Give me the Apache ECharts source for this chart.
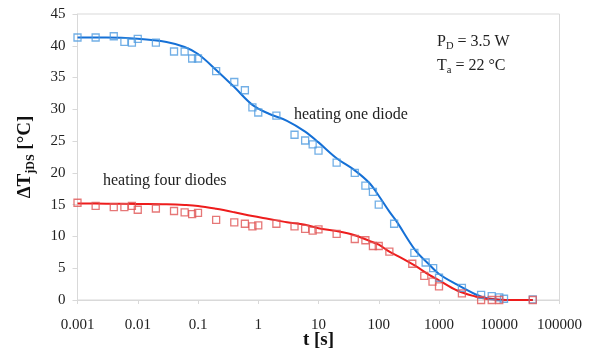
<!DOCTYPE html>
<html><head><meta charset="utf-8">
<script src="https://cdn.jsdelivr.net/npm/echarts@6/dist/echarts.min.js"></script>
<style>html,body{margin:0;padding:0;background:#fff}#c{width:590px;height:351px}</style>
</head><body><div id="c"></div>
<script>
// ---- data ----
const xTickLabels = ['0.001','0.01','0.1','1','10','100','1000','10000','100000'];
const yTicks = [0,5,10,15,20,25,30,35,40,45];

// measured points: heating one diode
const oneT = [0.001,0.002,0.004,0.006,0.008,0.01,0.02,0.04,0.06,0.08,0.1,0.2,0.4,0.6,0.8,1,2,4,6,8,10,20,40,60,80,100,180,390,600,800,1000,2400,5000,7500,10000,12000,36000];
const oneV = [41.3,41.3,41.5,40.6,40.5,41.1,40.5,39.1,39.1,38.0,38.0,36.0,34.3,33.0,30.3,29.5,29.0,26.0,25.1,24.5,23.5,21.6,20.0,18.0,17.0,15.0,12.0,7.4,5.9,5.0,3.5,1.9,0.8,0.6,0.4,0.2,0.1];

// measured points: heating four diodes
const fourT = [0.001,0.002,0.004,0.006,0.008,0.01,0.02,0.04,0.06,0.08,0.1,0.2,0.4,0.6,0.8,1,2,4,6,8,10,20,40,60,80,100,150,360,570,780,1000,2400,5000,7500,10000,36000];
const fourV = [15.3,14.8,14.6,14.6,14.8,14.2,14.4,14.0,13.8,13.5,13.7,12.6,12.2,12.0,11.6,11.75,12.0,11.6,11.2,10.9,11.1,10.4,9.6,9.4,8.5,8.5,7.6,5.7,3.8,2.9,2.15,1.05,0,0,0,0];

// model curves
const fitT = [0.001,0.003,0.01,0.03,0.06,0.1,0.2,0.4,0.8,1.5,3,6,10,20,40,70,100,150,200,400,700,1000,2000,4000,6000,10000,36000];
const oneFit = [41.3,41.3,41.1,40.6,39.8,38.7,36.2,33.5,30.7,29.3,28.2,26.5,24.8,22.3,20.4,18.4,16.4,13.9,12.3,7.9,5.5,4.1,2.4,0.9,0.3,0.05,0];
const fourFit = [15.2,15.15,15.1,15.05,14.95,14.8,14.35,13.8,13.2,12.75,12.25,11.85,11.3,10.85,10.2,9.3,8.7,7.6,7.0,5.4,3.9,3.1,1.5,0.55,0.2,0.05,0];

// ---- chart ----
const serif = "'Liberation Serif','Times New Roman',serif";
const zip = (t, v) => t.map((x, i) => [x, v[i]]);
const blueLine = '#1570d6', blueMark = '#4f9be0';
const redLine = '#ee1c1c', redMark = '#e05555';
const subRich = {
  a: {fontFamily: serif, fontSize: 16, lineHeight: 19, fill: '#222'},
  s: {fontFamily: serif, fontSize: 10.5, lineHeight: 12, verticalAlign: 'bottom', fill: '#222'}
};
const chart = echarts.init(document.getElementById('c'));
chart.setOption({
  animation: false,
  backgroundColor: '#fff',
  grid: {left: 77.5, right: 30.5, top: 14, bottom: 51, show: true, borderColor: '#d9d9d9', borderWidth: 1,
    outerBoundsMode: 'none', containLabel: false},
  xAxis: {
    type: 'log', logBase: 10, min: 0.001, max: 100000, splitNumber: 8,
    axisLine: {lineStyle: {color: '#d9d9d9'}},
    axisTick: {show: true, length: 4, lineStyle: {color: '#d9d9d9'}},
    minorTick: {show: false}, splitLine: {show: false},
    axisLabel: {
      formatter: v => xTickLabels[Math.round(Math.log10(v)) + 3],
      fontFamily: serif, fontSize: 15, color: '#222', margin: 18
    },
    name: 't [s]', nameLocation: 'middle', nameGap: 31, nameMoveOverlap: false,
    nameTextStyle: {fontFamily: serif, fontSize: 19, fontWeight: 'bold', color: '#111', verticalAlign: 'top'}
  },
  yAxis: {
    type: 'value', min: yTicks[0], max: yTicks[yTicks.length - 1], interval: 5,
    axisLine: {show: true, lineStyle: {color: '#d9d9d9'}},
    axisTick: {show: true, length: 5, lineStyle: {color: '#d9d9d9'}},
    splitLine: {show: false},
    axisLabel: {fontFamily: serif, fontSize: 15, color: '#222', margin: 12},
    name: '{a|ΔT}{s|jDS}{a| [°C]}', nameLocation: 'middle', nameGap: 41, nameRotate: 90,
    nameTextStyle: {
      rich: {
        a: {fontFamily: serif, fontSize: 19, fontWeight: 'bold', color: '#111', lineHeight: 22},
        s: {fontFamily: serif, fontSize: 12, fontWeight: 'bold', color: '#111', lineHeight: 14, verticalAlign: 'bottom'}
      }
    }
  },
  series: [
    {type: 'line', data: zip(fitT, oneFit), smooth: 0.35, showSymbol: false, lineStyle: {color: blueLine, width: 2}, z: 2},
    {type: 'line', data: zip(fitT, fourFit), smooth: 0.35, showSymbol: false, lineStyle: {color: redLine, width: 2}, z: 2},
    {type: 'scatter', data: zip(oneT, oneV), symbol: 'rect', symbolSize: 7,
      itemStyle: {color: 'rgba(255,255,255,0)', borderColor: blueMark, borderWidth: 1.3}, z: 3},
    {type: 'scatter', data: zip(fourT, fourV), symbol: 'rect', symbolSize: 7,
      itemStyle: {color: 'rgba(255,255,255,0)', borderColor: redMark, borderWidth: 1.3}, z: 3}
  ],
  graphic: [
    {type: 'text', x: 437, y: 42, style: {text: '{a|P}{s|D}{a| = 3.5 W}', verticalAlign: 'middle', rich: subRich}},
    {type: 'text', x: 437, y: 66, style: {text: '{a|T}{s|a}{a| = 22 °C}', verticalAlign: 'middle', rich: subRich}},
    {type: 'text', x: 294, y: 115, style: {text: 'heating one diode', verticalAlign: 'middle', font: "16px 'Liberation Serif'", fill: '#222'}},
    {type: 'text', x: 103, y: 181, style: {text: 'heating four diodes', verticalAlign: 'middle', font: "16px 'Liberation Serif'", fill: '#222'}}
  ]
});
</script></body></html>
